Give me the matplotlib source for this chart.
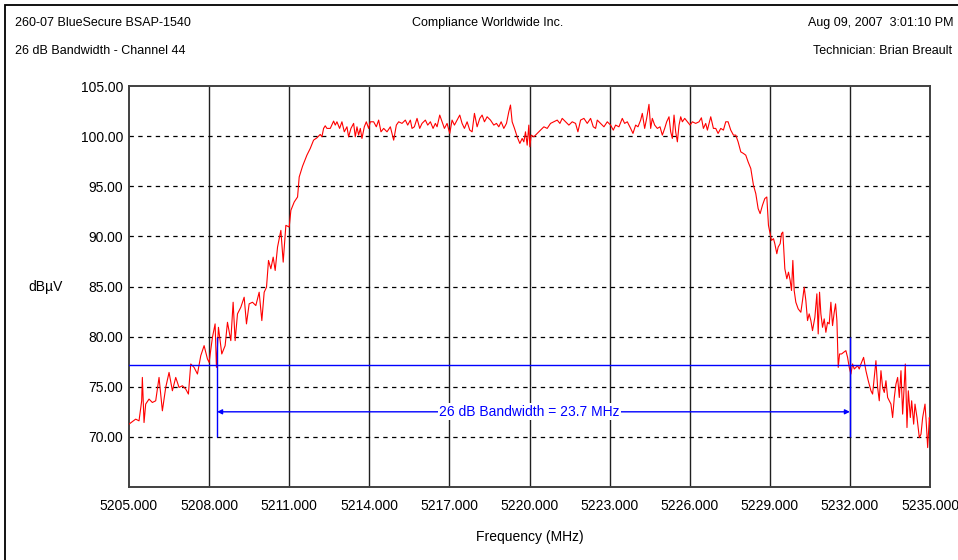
import matplotlib
matplotlib.use("Agg")
import matplotlib.pyplot as plt
from matplotlib.patches import Rectangle

plt.rcParams['font.family'] = ['Liberation Sans', 'DejaVu Sans']

# ---- data ----
freq_mhz = [
    5205.000, 5205.250, 5205.375, 5205.475, 5205.500, 5205.563, 5205.625, 5205.750, 5205.875, 5206.000,
    5206.125, 5206.250, 5206.375, 5206.500, 5206.625, 5206.750, 5206.875, 5207.000, 5207.125, 5207.225,
    5207.313, 5207.438, 5207.563, 5207.688, 5207.813, 5207.938, 5208.000, 5208.125, 5208.225, 5208.275,
    5208.350, 5208.475, 5208.600, 5208.688, 5208.813, 5208.900, 5208.975, 5209.063, 5209.188, 5209.313,
    5209.400, 5209.500, 5209.625, 5209.750, 5209.875, 5209.975, 5210.063, 5210.150, 5210.225, 5210.313,
    5210.400, 5210.475, 5210.563, 5210.688, 5210.775, 5210.875, 5211.000, 5211.063, 5211.188, 5211.313,
    5211.375, 5211.500,
    5211.663, 5211.788, 5211.913, 5212.038, 5212.163, 5212.225, 5212.288, 5212.350, 5212.413, 5212.538,
    5212.663, 5212.725, 5212.788, 5212.888, 5212.975, 5213.063, 5213.163, 5213.225, 5213.313, 5213.413,
    5213.475, 5213.538, 5213.600, 5213.663, 5213.725, 5213.813, 5213.888, 5213.975, 5214.038, 5214.163,
    5214.263, 5214.350, 5214.438, 5214.538, 5214.663, 5214.788, 5214.913, 5215.013, 5215.100, 5215.225,
    5215.350, 5215.438, 5215.538, 5215.600, 5215.688, 5215.788, 5215.888, 5215.975, 5216.100, 5216.188,
    5216.288, 5216.388, 5216.475, 5216.538, 5216.638, 5216.725, 5216.813, 5216.913, 5217.013, 5217.100,
    5217.188, 5217.288, 5217.388, 5217.475, 5217.563, 5217.663, 5217.763, 5217.850, 5217.938, 5218.038,
    5218.138, 5218.225, 5218.313, 5218.413, 5218.538, 5218.663, 5218.763, 5218.850, 5218.938, 5219.038,
    5219.138, 5219.225, 5219.288, 5219.350, 5219.438, 5219.538, 5219.638, 5219.725, 5219.788, 5219.850,
    5219.913, 5219.975, 5220.013, 5220.063, 5220.163, 5220.288, 5220.413, 5220.538, 5220.663, 5220.788,
    5220.913, 5221.038, 5221.138, 5221.225, 5221.350, 5221.475, 5221.600, 5221.725, 5221.813, 5221.913,
    5222.038, 5222.163, 5222.288, 5222.388, 5222.475, 5222.538,
    5222.663, 5222.788, 5222.913, 5223.038, 5223.138, 5223.225, 5223.350, 5223.475, 5223.563, 5223.663,
    5223.788, 5223.875, 5223.975, 5224.063, 5224.163, 5224.225, 5224.313, 5224.388, 5224.475, 5224.538,
    5224.600, 5224.688, 5224.788, 5224.888, 5224.975, 5225.063, 5225.138, 5225.225, 5225.288, 5225.350,
    5225.413, 5225.475, 5225.538, 5225.600, 5225.663, 5225.725, 5225.813, 5225.913, 5226.013, 5226.100,
    5226.225, 5226.350, 5226.438, 5226.513, 5226.600, 5226.663, 5226.788, 5226.888, 5226.975, 5227.063,
    5227.163, 5227.263, 5227.350, 5227.438, 5227.538, 5227.638, 5227.725, 5227.813, 5227.913, 5228.013,
    5228.100, 5228.188, 5228.288, 5228.388, 5228.475, 5228.563, 5228.638, 5228.725, 5228.813, 5228.888,
    5228.950,
    5229.013, 5229.063, 5229.138, 5229.188, 5229.263, 5229.313, 5229.388, 5229.438, 5229.488, 5229.563,
    5229.638, 5229.700, 5229.763, 5229.813, 5229.863, 5229.913, 5229.975, 5230.063, 5230.163, 5230.225,
    5230.288, 5230.350, 5230.413, 5230.475, 5230.538, 5230.600, 5230.688, 5230.763, 5230.813, 5230.863,
    5230.913, 5230.975, 5231.038, 5231.100, 5231.163, 5231.225, 5231.288, 5231.350, 5231.413, 5231.463,
    5231.513, 5231.563, 5231.613, 5231.688, 5231.763, 5231.850, 5231.913, 5231.975, 5232.038, 5232.100,
    5232.163, 5232.225, 5232.288, 5232.350, 5232.413, 5232.513, 5232.600, 5232.688, 5232.788, 5232.850,
    5232.913, 5232.975, 5233.038, 5233.100, 5233.163, 5233.225, 5233.288, 5233.350, 5233.413, 5233.475,
    5233.538, 5233.600, 5233.663, 5233.725, 5233.788, 5233.850, 5233.913, 5233.975, 5234.038, 5234.075,
    5234.138, 5234.188, 5234.263, 5234.313, 5234.388, 5234.438, 5234.513, 5234.600, 5234.663, 5234.725,
    5234.813, 5234.863, 5234.913, 5234.975, 5235.000,
]
level_dbuv = [
    71.27, 71.77, 71.60, 73.60, 75.93, 71.43, 73.27, 73.77, 73.43, 73.60,
    75.93, 72.60, 74.93, 76.43, 74.60, 75.93, 74.93, 75.10, 74.77, 74.27,
    77.27, 76.93, 76.27, 78.10, 79.10, 77.77, 77.43, 79.93, 81.27, 76.93,
    80.93, 78.27, 79.10, 81.43, 79.60, 83.43, 79.60, 82.27, 82.93, 83.93,
    81.27, 83.27, 83.43, 83.10, 84.43, 81.60, 84.43, 84.93, 87.60, 86.77,
    87.93, 86.60, 88.93, 90.60, 87.43, 91.10, 90.93, 92.60, 93.43, 93.93,
    95.93, 97.00,
    98.10, 98.77, 99.60, 99.83, 100.17, 99.93, 100.77, 101.03, 100.77, 100.77,
    101.50, 101.10, 101.43, 100.77, 101.43, 100.43, 100.93, 99.93, 100.77, 101.27,
    99.93, 100.93, 100.10, 100.77, 99.77, 100.93, 101.43, 100.77, 101.43, 101.43,
    100.93, 101.60, 100.43, 100.77, 100.43, 100.93, 99.60, 101.10, 101.43, 101.27,
    101.60, 101.10, 101.60, 100.77, 100.93, 101.77, 100.77, 101.27, 101.60, 101.10,
    101.43, 100.77, 101.27, 100.93, 102.10, 101.43, 100.77, 101.27, 100.27, 101.60,
    101.10, 101.60, 102.10, 101.27, 100.77, 101.43, 100.60, 100.43, 102.27, 100.93,
    101.77, 102.10, 101.43, 101.93, 101.60, 101.10, 101.27, 100.93, 101.43, 100.77,
    101.27, 102.43, 103.10, 101.43, 100.77, 99.93, 99.27, 99.77, 99.43, 100.43,
    99.10, 101.10, 98.93, 100.10, 99.93, 100.27, 100.60, 100.93, 100.77, 101.27,
    101.43, 101.60, 101.27, 101.77, 101.43, 101.10, 101.43, 101.27, 100.43, 101.60,
    101.77, 101.27, 101.77, 100.93, 100.77, 101.60,
    101.27, 100.93, 101.43, 101.10, 100.60, 101.10, 100.93, 101.77, 101.27, 101.43,
    100.77, 100.27, 101.10, 100.93, 101.60, 102.27, 100.77, 101.77, 103.17, 100.77,
    101.77, 101.10, 100.77, 100.93, 100.10, 100.77, 101.43, 101.93, 100.43, 99.77,
    102.10, 100.43, 99.43, 101.10, 101.93, 101.43, 101.77, 101.43, 101.10, 101.43,
    101.27, 101.43, 101.83, 100.77, 101.27, 100.60, 101.93, 100.77, 100.77, 100.27,
    100.77, 100.60, 101.43, 101.43, 100.60, 100.10, 100.10, 99.43, 98.43, 98.27,
    98.10, 97.43, 96.77, 95.10, 94.27, 92.77, 92.27, 93.10, 93.77, 93.93,
    91.10,
    90.27, 89.60, 89.77, 89.27, 88.27, 88.93, 89.27, 90.27, 90.43, 86.77,
    85.77, 86.43, 85.60, 84.60, 87.60, 84.60, 83.43, 82.77, 82.43, 83.60,
    84.93, 83.60, 81.60, 82.27, 81.60, 80.60, 81.93, 84.27, 80.27, 84.43,
    82.27, 80.93, 81.77, 80.43, 81.43, 81.27, 83.43, 81.10, 82.43, 83.27,
    81.60, 76.93, 78.27, 78.27, 78.43, 78.60, 77.93, 76.93, 76.27, 77.27,
    76.77, 76.93, 77.10, 76.77, 77.27, 77.93, 76.60, 75.60, 74.60, 74.27,
    75.93, 77.60, 74.93, 73.60, 76.60, 74.93, 74.43, 75.60, 73.93, 73.60,
    73.27, 71.93, 73.93, 75.27, 75.93, 73.93, 76.60, 72.27, 75.27, 77.27,
    70.93, 74.60, 71.93, 73.60, 71.27, 73.27, 71.93, 69.93, 70.27, 71.93,
    73.27, 71.27, 68.93, 71.93, 71.27,
]

x_ticks = [5205, 5208, 5211, 5214, 5217, 5220, 5223, 5226, 5229, 5232, 5235]
y_ticks = [70, 75, 80, 85, 90, 95, 100, 105]
ref_level = 77.2           # 26 dB down reference line
bw_low, bw_high = 5208.3, 5232.0
bw_arrow_level = 72.5
bw_marker_range = (70, 80)
bw_label = "26 dB Bandwidth = 23.7 MHz"

header_left = ["260-07 BlueSecure BSAP-1540", "26 dB Bandwidth - Channel 44"]
header_center = "Compliance Worldwide Inc."
header_right = ["Aug 09, 2007  3:01:10 PM", "Technician: Brian Breault"]

# ---- figure ----
W, H = 958, 560
fig = plt.figure(figsize=(W / 100, H / 100), dpi=100, facecolor='white')

def fx(px):
    return px / W

def fy(py):
    return 1 - py / H

# outer frame
fig.patches.append(Rectangle((fx(5), fy(600)), fx(1000), fy(5) - fy(600),
                             transform=fig.transFigure, fill=False,
                             edgecolor='black', linewidth=1.3))

fs = 10
hfs = 9
fig.text(fx(15), fy(23), header_left[0], ha='left', va='center', fontsize=hfs)
fig.text(fx(15), fy(51), header_left[1], ha='left', va='center', fontsize=hfs)
fig.text(fx(488), fy(23), header_center, ha='center', va='center', fontsize=hfs)
fig.text(fx(808), fy(23), header_right[0], ha='left', va='center', fontsize=hfs)
fig.text(fx(813), fy(51), header_right[1], ha='left', va='center', fontsize=hfs)

ax = fig.add_axes([fx(129), fy(487), fx(930) - fx(129), fy(86) - fy(487)])
ax.set_facecolor('white')
ax.set_xlim(5205, 5235)
ax.set_ylim(65, 105)

ax.set_xticks(x_ticks)
ax.set_xticklabels([f"{v:.3f}" for v in x_ticks])
ax.set_yticks(y_ticks)
ax.set_yticklabels([f"{v:.2f}" for v in y_ticks])
ax.tick_params(length=0, labelsize=fs)
ax.tick_params(axis='x', pad=9)
ax.tick_params(axis='y', pad=4)

for v in x_ticks[1:-1]:
    ax.axvline(v, color='#202020', linewidth=1.0, zorder=1)
for v in y_ticks[:-1]:
    ax.axhline(v, color='black', linewidth=0.9, linestyle=(0, (3.5, 3.5)), zorder=1)

for s in ax.spines.values():
    s.set_color('#404040')
    s.set_linewidth(1.4)

ax.plot(freq_mhz, level_dbuv, color='#ff0000', linewidth=0.8, zorder=3)

blue = '#0000ff'
ax.axhline(ref_level, color=blue, linewidth=1.0, zorder=4)
ax.vlines([bw_low, bw_high], bw_marker_range[0], bw_marker_range[1],
          color=blue, linewidth=1.0, zorder=4)
ax.annotate('', xy=(bw_low, bw_arrow_level), xytext=(bw_high, bw_arrow_level),
            arrowprops=dict(arrowstyle='<|-|>', color=blue, lw=1.0,
                            shrinkA=0, shrinkB=0, mutation_scale=7), zorder=4)
ax.text((bw_low + bw_high) / 2 - 0.15, bw_arrow_level, bw_label, color=blue,
        ha='center', va='center', fontsize=fs, zorder=5,
        bbox=dict(facecolor='white', edgecolor='none', pad=1))

ax.set_xlabel("Frequency (MHz)", fontsize=fs, labelpad=12)
fig.text(fx(46), fy(287), "dB\u00b5V", ha='center', va='center', fontsize=fs)

fig.savefig("out.png", dpi=100, facecolor='white')
